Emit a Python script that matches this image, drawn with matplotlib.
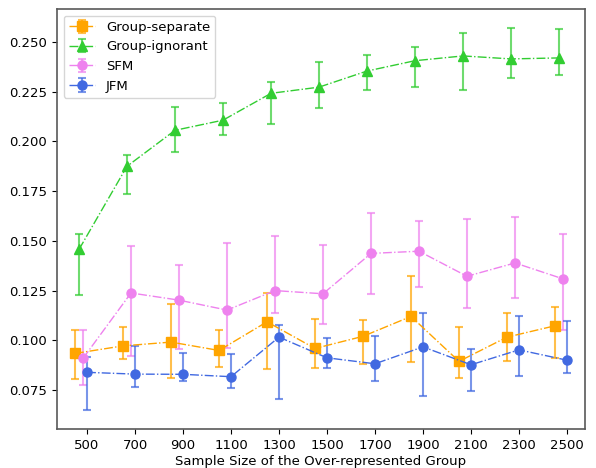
import matplotlib
matplotlib.use("Agg")
import matplotlib.pyplot as plt
import numpy as np

sample_sizes = [500, 700, 900, 1100, 1300, 1500, 1700, 1900, 2100, 2300, 2500]

gs_mean = [0.0934, 0.0972, 0.0991, 0.0949, 0.1093, 0.0959, 0.1020, 0.1120, 0.0894, 0.1016, 0.1073]
gs_low  = [0.0805, 0.0904, 0.0809, 0.0867, 0.0855, 0.0859, 0.0879, 0.0890, 0.0809, 0.0894, 0.0912]
gs_high = [0.1053, 0.1065, 0.1182, 0.1053, 0.1237, 0.1107, 0.1101, 0.1321, 0.1065, 0.1138, 0.1168]

gi_mean = [0.1457, 0.1875, 0.2056, 0.2107, 0.2242, 0.2273, 0.2354, 0.2406, 0.2430, 0.2415, 0.2420]
gi_low  = [0.1227, 0.1735, 0.1949, 0.2033, 0.2090, 0.2166, 0.2261, 0.2274, 0.2261, 0.2321, 0.2333]
gi_high = [0.1534, 0.1934, 0.2172, 0.2192, 0.2299, 0.2398, 0.2437, 0.2473, 0.2545, 0.2569, 0.2564]

sfm_mean = [0.0909, 0.1238, 0.1202, 0.1152, 0.1250, 0.1234, 0.1437, 0.1448, 0.1322, 0.1389, 0.1309]
sfm_low  = [0.0775, 0.0921, 0.0954, 0.0962, 0.1135, 0.1081, 0.1232, 0.1266, 0.1162, 0.1214, 0.1050]
sfm_high = [0.1053, 0.1472, 0.1378, 0.1491, 0.1527, 0.1477, 0.1639, 0.1601, 0.1611, 0.1618, 0.1534]

jfm_mean = [0.0839, 0.0830, 0.0829, 0.0817, 0.1016, 0.0912, 0.0882, 0.0967, 0.0877, 0.0952, 0.0900]
jfm_low  = [0.0649, 0.0765, 0.0795, 0.0760, 0.0706, 0.0859, 0.0795, 0.0721, 0.0743, 0.0819, 0.0835]
jfm_high = [0.0917, 0.0972, 0.0936, 0.0932, 0.1075, 0.1014, 0.1021, 0.1135, 0.0957, 0.1122, 0.1097]

series = [
    ("Group-separate", gs_mean, gs_low, gs_high, "orange", "s", -50.0),
    ("Group-ignorant", gi_mean, gi_low, gi_high, "limegreen", "^", -33.3),
    ("SFM", sfm_mean, sfm_low, sfm_high, "violet", "o", -16.7),
    ("JFM", jfm_mean, jfm_low, jfm_high, "royalblue", "o", 0.0),
]

fig = plt.figure(figsize=(5.96, 4.68), dpi=100)
ax = fig.add_axes([57 / 596, 1 - 429 / 468, (585 - 57) / 596, (429 - 9) / 468])

x = np.array(sample_sizes, dtype=float)
for name, m, lo, hi, color, marker, off in series:
    m = np.array(m); lo = np.array(lo); hi = np.array(hi)
    yerr = np.vstack([m - lo, hi - m])
    cont = ax.errorbar(x + off, m, yerr=yerr, color=color, ecolor=color,
                       linestyle='-.', linewidth=1.0, marker=marker,
                       markersize=6.5 if marker != '^' else 7.5,
                       elinewidth=1.5, capsize=3.2, capthick=1.5, label=name)
    for c in cont[1]:
        c.set_alpha(0.7)
    for c in cont[2]:
        c.set_alpha(0.7)

ax.set_xlim(375, 2575)
ax.set_ylim(0.0554, 0.2666)
ax.set_xticks(sample_sizes)
ax.set_xticklabels([str(s) for s in sample_sizes])
ax.set_yticks([0.075, 0.100, 0.125, 0.150, 0.175, 0.200, 0.225, 0.250])
ax.set_yticklabels(["0.075", "0.100", "0.125", "0.150", "0.175", "0.200", "0.225", "0.250"])
ax.tick_params(labelsize=9.5)
ax.set_xlabel("Sample Size of the Over-represented Group", fontsize=9.5, labelpad=2)
for s in ax.spines.values():
    s.set_color('0.35')
    s.set_linewidth(1.2)

ax.legend(loc='upper left', fontsize=9.5, framealpha=0.8)

fig.savefig("out.png", dpi=100)
